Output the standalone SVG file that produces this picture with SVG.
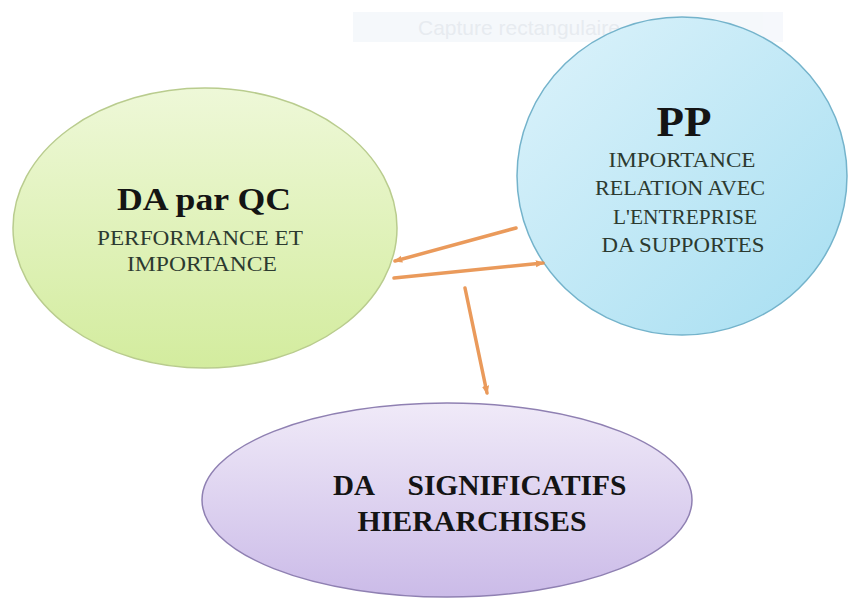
<svg xmlns="http://www.w3.org/2000/svg" width="848" height="599" viewBox="0 0 848 599">
  <defs>
    <linearGradient id="gGreen" x1="0" y1="0" x2="0" y2="1">
      <stop offset="0" stop-color="#EEF8D8"/>
      <stop offset="1" stop-color="#D3EC9E"/>
    </linearGradient>
    <linearGradient id="gBlue" x1="0" y1="0" x2="1" y2="1">
      <stop offset="0" stop-color="#DDF3FB"/>
      <stop offset="1" stop-color="#A6DEF1"/>
    </linearGradient>
    <linearGradient id="gPurple" x1="0" y1="0" x2="0" y2="1">
      <stop offset="0" stop-color="#F0EAF8"/>
      <stop offset="1" stop-color="#CBBBE8"/>
    </linearGradient>
    <marker id="ah" viewBox="0 0 10 10" refX="8" refY="5" markerWidth="9" markerHeight="9" markerUnits="userSpaceOnUse" orient="auto">
      <path d="M0,1 L10,5 L0,9 Z" fill="#E8904A"/>
    </marker>
    <style>
      .title{font-family:"Liberation Serif","Times New Roman",serif;font-weight:bold;fill:#141414;text-anchor:middle}
      .body{font-family:"Liberation Serif","Times New Roman",serif;fill:#2c3a30;text-anchor:middle}
      .conn{stroke:#E8904A;stroke-width:3.5;stroke-linecap:round;fill:none;opacity:0.9}
    </style>
  </defs>
  <rect width="848" height="599" fill="#ffffff"/>

  <g id="ghost" opacity="0.55">
    <rect x="353" y="12" width="430" height="30" fill="#EEF3F9"/>
    <text x="418" y="35" font-family="Liberation Sans, Arial, sans-serif" font-size="21" fill="#D4DBE4">Capture rectangulaire</text>
  </g>

  <g id="node-da-qc">
    <ellipse cx="205" cy="228" rx="192" ry="140" fill="url(#gGreen)" stroke="#B9CC8E" stroke-width="1.5"/>
    <text class="title" x="204" y="210" font-size="31" textLength="174" lengthAdjust="spacingAndGlyphs">DA par QC</text>
    <text class="body" x="200" y="245" font-size="22" textLength="206" lengthAdjust="spacingAndGlyphs">PERFORMANCE ET</text>
    <text class="body" x="202" y="271" font-size="22" textLength="150" lengthAdjust="spacingAndGlyphs">IMPORTANCE</text>
  </g>

  <g id="node-pp">
    <ellipse cx="682" cy="176" rx="165" ry="159" fill="url(#gBlue)" stroke="#74B3CB" stroke-width="1.5"/>
    <text class="title" x="684" y="136" font-size="42" textLength="55" lengthAdjust="spacingAndGlyphs">PP</text>
    <text class="body" x="682" y="167" font-size="22" textLength="147" lengthAdjust="spacingAndGlyphs">IMPORTANCE</text>
    <text class="body" x="680" y="195" font-size="22" textLength="170" lengthAdjust="spacingAndGlyphs">RELATION AVEC</text>
    <text class="body" x="685" y="224" font-size="22" textLength="144" lengthAdjust="spacingAndGlyphs">L'ENTREPRISE</text>
    <text class="body" x="683" y="252" font-size="22" textLength="163" lengthAdjust="spacingAndGlyphs">DA SUPPORTES</text>
  </g>

  <g id="node-da-sig">
    <ellipse cx="447" cy="500" rx="245" ry="97" fill="url(#gPurple)" stroke="#8F80B2" stroke-width="1.5"/>
    <text class="title" x="354" y="495" font-size="29" textLength="42" lengthAdjust="spacingAndGlyphs">DA</text>
    <text class="title" x="517" y="495" font-size="29" textLength="219" lengthAdjust="spacingAndGlyphs">SIGNIFICATIFS</text>
    <text class="title" x="472" y="531" font-size="29" textLength="229" lengthAdjust="spacingAndGlyphs">HIERARCHISES</text>
  </g>

  <g id="connectors">
    <line class="conn" x1="516" y1="228" x2="395" y2="261" marker-end="url(#ah)"/>
    <line class="conn" x1="394" y1="278" x2="543" y2="263" marker-end="url(#ah)"/>
    <line class="conn" x1="465" y1="288" x2="487" y2="393" marker-end="url(#ah)"/>
  </g>
</svg>
